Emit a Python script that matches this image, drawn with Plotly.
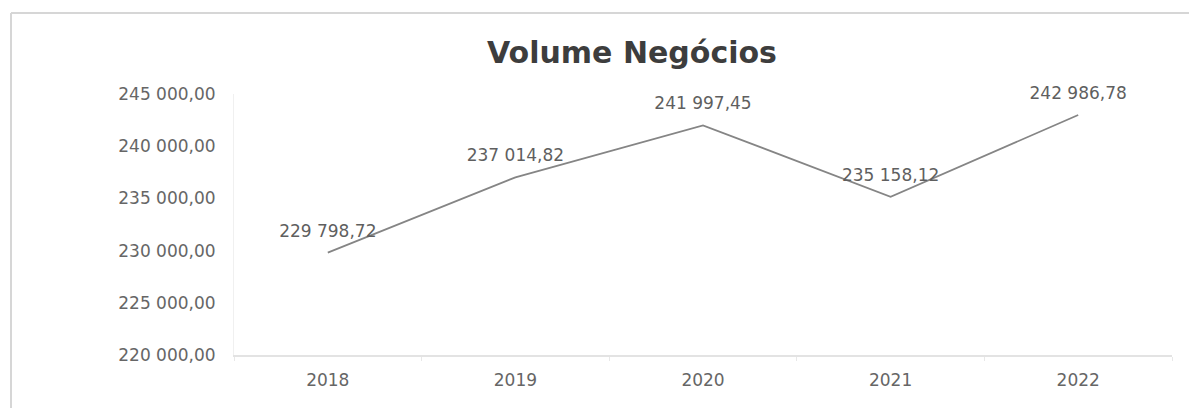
import plotly.graph_objects as go

years = ["2018", "2019", "2020", "2021", "2022"]
volume = [229798.72, 237014.82, 241997.45, 235158.12, 242986.78]
y_ticks = [220000, 225000, 230000, 235000, 240000, 245000]
title_text = "Volume Negócios"

W, H = 1189, 408
L, R, T, B = 234, 17, 94, 53
pw, ph = W - L - R, H - T - B

fig = go.Figure()
fig.add_trace(go.Scatter(
    x=years, y=volume, mode="lines+markers+text",
    line=dict(color="#858585", width=1.8),
    marker=dict(size=17, color="rgba(0,0,0,0)"),
    texttemplate="%{y:,.2f}", textposition="top center",
    textfont=dict(family="DejaVu Sans", size=17, color="#5f5f5f"),
    cliponaxis=False, hoverinfo="skip", showlegend=False,
))

def px_x(p):
    return (p - L) / pw

def px_y(p):
    return (H - B - p) / ph

border = "#d6d6d6"
shapes = [
    dict(type="line", xref="paper", yref="paper", x0=px_x(11), x1=px_x(11),
         y0=px_y(13), y1=px_y(H + 5), line=dict(color=border, width=2)),
    dict(type="line", xref="paper", yref="paper", x0=px_x(11), x1=px_x(W + 5),
         y0=px_y(13), y1=px_y(13), line=dict(color=border, width=2)),
]

fig.update_layout(
    width=W, height=H,
    margin=dict(l=L, r=R, t=T, b=B),
    paper_bgcolor="white", plot_bgcolor="white",
    separators=", ",
    title=dict(text=title_text, x=632 / W, xanchor="center", y=1 - 52 / H, yanchor="middle",
               font=dict(family="DejaVu Sans", size=30, color="#3d3d3d", weight="bold")),
    shapes=shapes,
    xaxis=dict(type="category", range=[-0.5, 4.5], showgrid=False,
               showline=True, linecolor="#e3e3e3", linewidth=1.5,
               ticks="outside", tickson="boundaries", ticklen=4, tickcolor="#e8e8e8",
               tickfont=dict(family="DejaVu Sans", size=17, color="#666666"),
               ticklabelstandoff=9, fixedrange=True),
    yaxis=dict(range=[220000, 245000], tickvals=y_ticks, tickformat=",.2f",
               showgrid=False, zeroline=False,
               showline=True, linecolor="#f0f0f0", linewidth=1,
               tickfont=dict(family="DejaVu Sans", size=17, color="#666666"),
               ticklabelstandoff=14, fixedrange=True),
)

fig.write_html("out.html")
